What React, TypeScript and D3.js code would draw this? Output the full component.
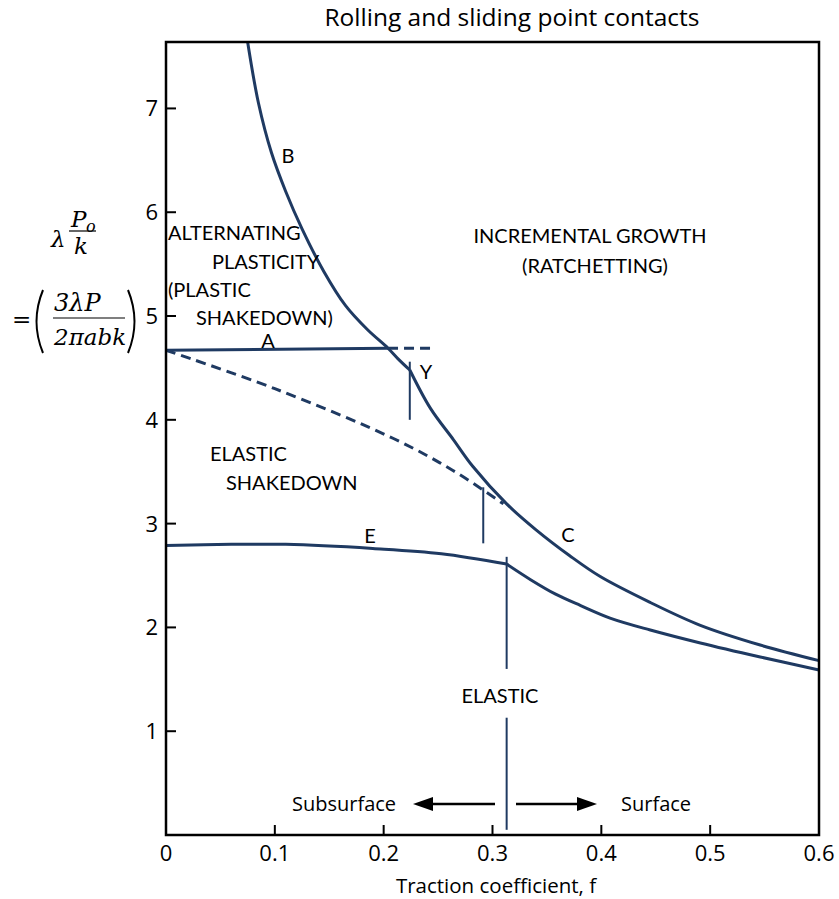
import React from "react";
import * as d3 from "d3";

const xTicks = [0, 0.1, 0.2, 0.3, 0.4, 0.5, 0.6];
const yTicks = [1, 2, 3, 4, 5, 6, 7];

// Upper boundary (B above Y, C below Y)
const curveB: [number, number][] = [
  [0.075, 7.64], [0.085, 7.05], [0.097, 6.57], [0.11, 6.2], [0.125, 5.84], [0.145, 5.43],
  [0.165, 5.1], [0.185, 4.87], [0.204, 4.69], [0.213, 4.59], [0.224, 4.48],
];
const curveC: [number, number][] = [
  [0.224, 4.48], [0.243, 4.11], [0.264, 3.81], [0.282, 3.55], [0.313, 3.19], [0.34, 2.94],
  [0.371, 2.69], [0.399, 2.49], [0.445, 2.24], [0.491, 2.02], [0.546, 1.83], [0.6, 1.68],
];
// Line A (solid and dashed extension)
const lineA: [number, number][] = [[0, 4.67], [0.204, 4.69]];
const lineADashed: [number, number][] = [[0.204, 4.69], [0.245, 4.69]];
// Dashed lower boundary of elastic shakedown
const dashedShakedown: [number, number][] = [
  [0, 4.67], [0.1, 4.3], [0.209, 3.82], [0.264, 3.51], [0.31, 3.19],
];
// E curve and its continuation
const curveE: [number, number][] = [
  [0, 2.79], [0.06, 2.8], [0.11, 2.8], [0.19, 2.76], [0.253, 2.71], [0.313, 2.61],
];
const curveE2: [number, number][] = [
  [0.313, 2.61], [0.335, 2.46], [0.358, 2.32], [0.381, 2.21], [0.408, 2.09], [0.445, 1.975],
  [0.491, 1.85], [0.546, 1.715], [0.6, 1.59],
];
// Vertical marker lines: [f, vFrom, vTo]
const markers: [number, number, number][] = [
  [0.224, 4.56, 4.0],
  [0.2915, 3.35, 2.81],
  [0.313, 2.68, 1.6],
  [0.313, 1.13, 0.05],
];

const regionLabels = [
  { t: "ALTERNATING", x: 168, y: 240, a: "start" },
  { t: "PLASTICITY", x: 212, y: 269, a: "start" },
  { t: "(PLASTIC", x: 168, y: 297, a: "start" },
  { t: "SHAKEDOWN)", x: 196, y: 325, a: "start" },
  { t: "INCREMENTAL GROWTH", x: 590, y: 243, a: "middle" },
  { t: "(RATCHETTING)", x: 595, y: 273, a: "middle" },
  { t: "ELASTIC", x: 210, y: 461, a: "start" },
  { t: "SHAKEDOWN", x: 226, y: 490, a: "start" },
  { t: "ELASTIC", x: 500, y: 703, a: "middle" },
  { t: "B", x: 288, y: 163, a: "middle" },
  { t: "A", x: 268, y: 348, a: "middle" },
  { t: "Y", x: 426, y: 379, a: "middle" },
  { t: "E", x: 370, y: 543, a: "middle" },
  { t: "C", x: 568, y: 542, a: "middle" },
];

const COLOR = "#1f3a62";
const FONT = "Lato, 'Open Sans', sans-serif";
const FONT2 = "'Open Sans', Lato, sans-serif";

export default function App() {
  const left = 166, right = 819, top = 42, bottom = 835;
  const x = d3.scaleLinear().domain([0, 0.6]).range([left, right]);
  const y = d3.scaleLinear().domain([0, 7.64]).range([bottom, top]);
  const line = d3
    .line<[number, number]>()
    .x((d) => x(d[0]))
    .y((d) => y(d[1]))
    .curve(d3.curveCatmullRom.alpha(0.5));
  const straight = d3
    .line<[number, number]>()
    .x((d) => x(d[0]))
    .y((d) => y(d[1]));

  const arrowY = 804;
  return (
    <svg width={839} height={899} style={{ display: "block", position: "absolute", left: 0, top: 0 }}>
      <rect width={839} height={899} fill="#fff" />
      <text x={512} y={26} textAnchor="middle" fontFamily={FONT2} fontSize={24.5} fill="#000">
        Rolling and sliding point contacts
      </text>

      {/* curves */}
      <g fill="none" stroke={COLOR} strokeWidth={3}>
        <path d={line(curveB) || ""} />
        <path d={line(curveC) || ""} />
        <path d={straight(lineA) || ""} />
        <path d={straight(lineADashed) || ""} strokeDasharray="10,6" />
        <path d={line(dashedShakedown) || ""} strokeDasharray="10,6" />
        <path d={line(curveE) || ""} />
        <path d={line(curveE2) || ""} />
      </g>
      <g stroke={COLOR} strokeWidth={2}>
        {markers.map((m, i) => (
          <line key={i} x1={x(m[0])} x2={x(m[0])} y1={y(m[1])} y2={y(m[2])} />
        ))}
      </g>

      {/* frame */}
      <rect x={left} y={top} width={right - left} height={bottom - top} fill="none" stroke="#000" strokeWidth={2.5} />
      {/* ticks */}
      <g stroke="#000" strokeWidth={2}>
        {xTicks.filter((t) => t > 0 && t < 0.6).map((t) => (
          <line key={t} x1={x(t)} x2={x(t)} y1={bottom} y2={bottom - 10} />
        ))}
        {yTicks.map((t) => (
          <line key={t} x1={left} x2={left + 10} y1={y(t)} y2={y(t)} />
        ))}
      </g>
      <g fontFamily={FONT2} fontSize={22} fill="#000">
        {xTicks.map((t) => (
          <text key={t} x={x(t)} y={861} textAnchor="middle">
            {t === 0 ? "0" : d3.format(".1f")(t)}
          </text>
        ))}
        {yTicks.map((t) => (
          <text key={t} x={158} y={y(t) + 8} textAnchor="end">
            {t}
          </text>
        ))}
      </g>
      <text x={496} y={893} textAnchor="middle" fontFamily={FONT2} fontSize={20.5} fill="#000">
        Traction coefficient, f
      </text>

      {/* region labels */}
      <g fontFamily={FONT} fontSize={20} fill="#000">
        {regionLabels.map((l, i) => (
          <text key={i} x={l.x} y={l.y} textAnchor={l.a as any}>
            {l.t}
          </text>
        ))}
      </g>

      {/* arrows */}
      <g stroke="#000" strokeWidth={2.5}>
        <line x1={495} x2={430} y1={arrowY} y2={arrowY} />
        <line x1={516} x2={580} y1={arrowY} y2={arrowY} />
      </g>
      <polygon points={`413,${arrowY} 433,${arrowY - 7} 433,${arrowY + 7}`} fill="#000" />
      <polygon points={`597,${arrowY} 577,${arrowY - 7} 577,${arrowY + 7}`} fill="#000" />
      <g fontFamily={FONT2} fontSize={20} fill="#000">
        <text x={292} y={811}>Subsurface</text>
        <text x={621} y={811}>Surface</text>
      </g>

      {/* y-axis formula */}
      <g fontFamily="'DejaVu Serif', serif" fontStyle="italic" fontSize={23} fill="#000">
        <text x={51} y={247}>λ</text>
        <text x={71} y={227}>P</text>
        <text x={86} y={232} fontSize={16}>o</text>
        <line x1={69} x2={96} y1={231} y2={231} stroke="#000" strokeWidth={1.2} />
        <text x={74} y={254}>k</text>

        <text x={12} y={327} fontStyle="normal">=</text>
        <path d="M43,290 Q30,321.5 43,353" fill="none" stroke="#000" strokeWidth={2} />
        <text x={54} y={311} fontSize={24}>3λP</text>
        <line x1={53} x2={125} y1={318} y2={318} stroke="#000" strokeWidth={1.2} />
        <text x={54} y={345} fontSize={23}>2πabk</text>
        <path d="M128,290 Q141,321.5 128,353" fill="none" stroke="#000" strokeWidth={2} />
      </g>
    </svg>
  );
}
